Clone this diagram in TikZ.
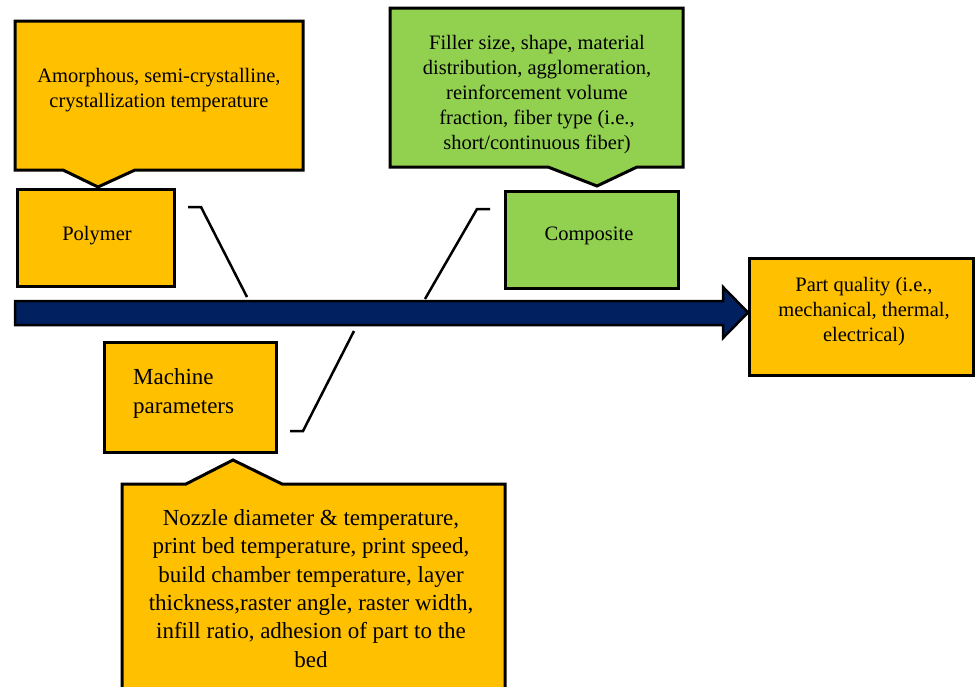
\documentclass[tikz,border=0pt]{standalone}
\usepackage{fontspec}
\setmainfont{Liberation Serif}
\definecolor{gold}{HTML}{FFC000}
\definecolor{leaf}{HTML}{92D050}
\definecolor{navy}{HTML}{002060}
\begin{document}
\begin{tikzpicture}[x=1pt,y=-1pt,
  box/.style={draw=black, line width=3pt, fill=gold, inner sep=0pt},
  callout/.style={draw=black, line width=3pt, line join=miter},
  conn/.style={draw=black, line width=2.5pt},
  txt/.style={font=\fontsize{20.5}{25}\selectfont, align=center, inner sep=0pt},
  bigtxt/.style={font=\fontsize{23}{28.4}\selectfont, align=center, inner sep=0pt}]
\useasboundingbox (0,0) rectangle (975,686);

% callouts
\draw[callout, fill=gold] (15,21) -- (303,21) -- (303,170) -- (135,170) -- (98,187) -- (63,170) -- (15,170) -- cycle;
\node[txt] (amorph) at (159,90) {Amorphous, semi-crystalline,\\crystallization temperature};

\draw[callout, fill=leaf] (390,8) -- (683,8) -- (683,167) -- (637,167) -- (597,186) -- (548,167) -- (390,167) -- cycle;
\node[txt] (filler) at (537,95) {Filler size, shape, material\\distribution, agglomeration,\\reinforcement volume\\fraction, fiber type (i.e.,\\short/continuous fiber)};

\draw[callout, fill=gold] (122,692) -- (122,484) -- (186,484) -- (233,460) -- (282,484) -- (505,484) -- (505,692);
\node[bigtxt] (nozzle) at (311,588.5) {Nozzle diameter \& temperature,\\print bed temperature, print speed,\\build chamber temperature, layer\\thickness,raster angle, raster width,\\infill ratio, adhesion of part to the\\bed};

% boxes
\node[box, minimum width=157, minimum height=97] (polymer) at (95.5,237.5) {};
\node[txt] (polymertxt) at (97,236) {Polymer};

\node[box, fill=leaf, minimum width=173, minimum height=97] (composite) at (591.5,239.5) {};
\node[txt] (compositetxt) at (589,236) {Composite};

\node[box, minimum width=172, minimum height=110] (machine) at (190,397) {};
\node[bigtxt, font=\fontsize{23}{29}\selectfont, align=left, anchor=west] (machinetxt) at (133,393) {Machine\\parameters};

\node[box, minimum width=224, minimum height=117] (quality) at (861,316.5) {};
\node[txt] (qualitytxt) at (864,312) {Part quality (i.e.,\\mechanical, thermal,\\electrical)};

% main arrow
\draw[draw=black, line width=2.5pt, fill=navy, line join=miter] (15,301) -- (723,301) -- (723,287) -- (748,312.5) -- (723,338) -- (723,325) -- (15,325) -- cycle;

% connectors
\coordinate (pa) at (188,207);
\coordinate (pb) at (201,207);
\coordinate (pc) at (247,297);
\draw[conn] (pa) -- (pb) -- (pc);

\coordinate (ca) at (490,209);
\coordinate (cb) at (477,209);
\coordinate (cc) at (425,299);
\draw[conn] (ca) -- (cb) -- (cc);

\coordinate (ma) at (290,431);
\coordinate (mb) at (303,431);
\coordinate (mc) at (354,331);
\draw[conn] (ma) -- (mb) -- (mc);
\end{tikzpicture}
\end{document}
